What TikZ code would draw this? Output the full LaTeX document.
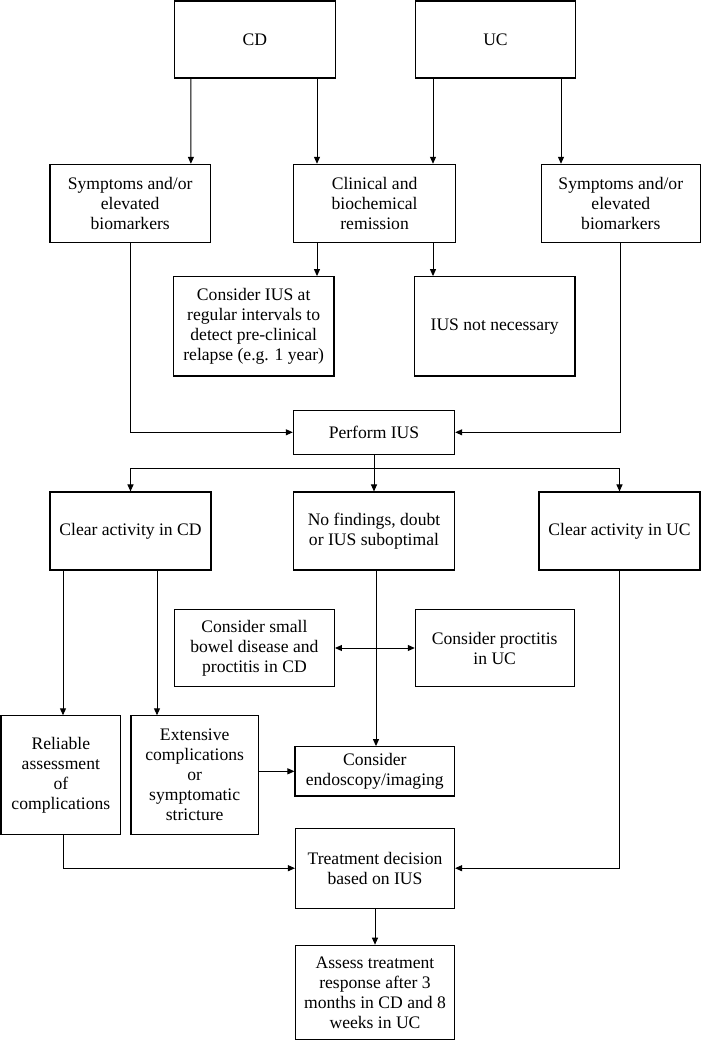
\documentclass[tikz,border=0pt]{standalone}
\usepackage{fontspec}
\setmainfont{Liberation Serif}
\usetikzlibrary{arrows.meta,calc}
\begin{document}
\begin{tikzpicture}[x=1pt,y=-1pt,
  box/.style={draw, line width=1.1pt, align=center, inner sep=2pt,
    font=\fontsize{17.6}{20}\selectfont},
  arr/.style={line width=1pt, -{Triangle[length=7pt,width=6pt]}},
  darr/.style={line width=1pt, {Triangle[length=7pt,width=6pt]}-{Triangle[length=7pt,width=6pt]}},
  ln/.style={line width=1pt}]
\useasboundingbox (0,0) rectangle (701,1041);
% row 1
\node[box, minimum width=161pt, minimum height=77pt] (cd) at (254.8,39.5) {CD};
\node[box, minimum width=160.5pt, minimum height=77pt] (uc) at (495.5,39.5) {UC};
% row 2
\node[box, minimum width=160.5pt, minimum height=77.7pt] (s1) at (130.2,203.2) {Symptoms and/or\\elevated\\biomarkers};
\node[box, minimum width=161.8pt, minimum height=77.7pt] (cl) at (374.6,203.2) {Clinical and\\biochemical\\remission};
\node[box, minimum width=158.8pt, minimum height=77.7pt] (s2) at (620.8,203.2) {Symptoms and/or\\elevated\\biomarkers};
% row 3
\node[box, minimum width=160.6pt, minimum height=99.3pt] (ci) at (253.7,326.3) {Consider IUS at\\regular intervals to\\detect pre-clinical\\relapse (e.g. 1 year)};
\node[box, minimum width=160.6pt, minimum height=99.3pt] (nn) at (494.7,326.3) {IUS not necessary};
% perform
\node[box, minimum width=161.3pt, minimum height=44pt] (pi) at (374,432.3) {Perform IUS};
\coordinate (br) at (374,468.3);
% row 4
\node[box, minimum width=161pt, minimum height=78pt] (ca) at (130.5,531) {Clear activity in CD};
\node[box, minimum width=161.3pt, minimum height=78pt] (nf) at (374,531) {No findings, doubt\\or IUS suboptimal};
\node[box, minimum width=161pt, minimum height=78pt] (cu) at (619.5,531) {Clear activity in UC};
% row 5
\node[box, minimum width=160pt, minimum height=77.4pt] (sb) at (254.4,648) {Consider small\\bowel disease and\\proctitis in CD};
\node[box, minimum width=158.7pt, minimum height=77.4pt] (pr) at (494.7,648) {Consider proctitis\\in UC};
% row 6
\node[box, minimum width=119.7pt, minimum height=118.3pt] (rl) at (60.85,775) {Reliable\\assessment\\of\\complications};
\node[box, minimum width=127.4pt, minimum height=118.3pt] (ex) at (194.7,775) {Extensive\\complications\\or\\symptomatic\\stricture};
\node[box, minimum width=159.6pt, minimum height=49.3pt] (en) at (374.8,771.3) {Consider\\endoscopy/imaging};
% bottom
\node[box, minimum width=159pt, minimum height=80.3pt] (td) at (375,868.2) {Treatment decision\\based on IUS};
\node[box, minimum width=159pt, minimum height=94.5pt] (as) at (375,992.5) {Assess treatment\\response after 3\\months in CD and 8\\weeks in UC};
% connectors
\draw[arr] ([xshift=-63.9pt]cd.south) -- ([xshift=60.7pt]s1.north);
\draw[arr] ([xshift=62.2pt]cd.south) -- ([xshift=-57.6pt]cl.north);
\draw[arr] ([xshift=-62.5pt]uc.south) -- ([xshift=58.4pt]cl.north);
\draw[arr] ([xshift=65.5pt]uc.south) -- ([xshift=-59.8pt]s2.north);
\draw[arr] ([xshift=-57.6pt]cl.south) -- ([xshift=63.3pt]ci.north);
\draw[arr] ([xshift=58.4pt]cl.south) -- ([xshift=-61.7pt]nn.north);
\draw[arr] (s1.south) |- (pi.west);
\draw[arr] (s2.south) |- (pi.east);
\draw[arr] (pi.south) -- (nf.north);
\draw[arr] (br) -| (ca.north);
\draw[arr] (br) -| (cu.north);
\draw[arr] ([xshift=-67.5pt]ca.south) -- ([xshift=2.15pt]rl.north);
\draw[arr] ([xshift=26.5pt]ca.south) -- ([xshift=-37.7pt]ex.north);
\draw[arr] ([xshift=2pt]nf.south) -- ([xshift=1.2pt]en.north);
\draw[darr] (sb.east) -- (pr.west);
\draw[arr] (ex.east |- en.west) -- (en.west);
\draw[arr] ([xshift=2.15pt]rl.south) |- (td.west);
\draw[arr] (cu.south) |- (td.east);
\draw[arr] (td.south) -- (as.north);
\end{tikzpicture}
\end{document}
